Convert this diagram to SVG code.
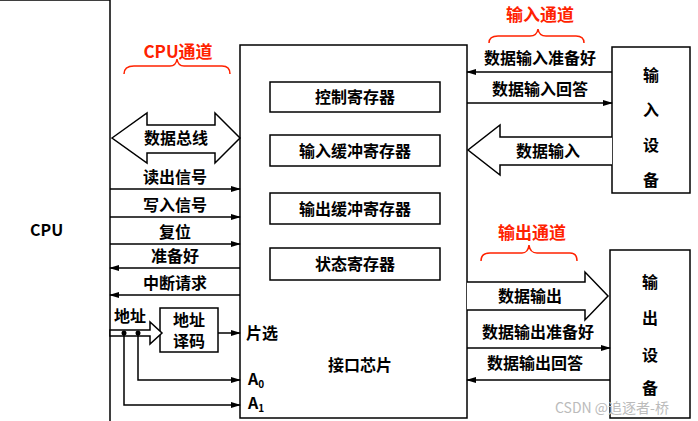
<svg xmlns="http://www.w3.org/2000/svg" width="698" height="421" viewBox="0 0 698 421">
<defs>
<marker id="ah" markerWidth="10" markerHeight="8" refX="9" refY="4" orient="auto" markerUnits="userSpaceOnUse"><path d="M0,1 L10,4 L0,7 Z" fill="#000"/></marker>
</defs>
<style>
.t{font-family:"Noto Sans CJK SC","Noto Sans",sans-serif;font-size:16px;font-weight:bold;fill:#000}
.r{font-family:"Noto Sans CJK SC","Noto Sans",sans-serif;font-size:17px;font-weight:bold;fill:#ff2200}
.b{fill:#fff;stroke:#000;stroke-width:1.5}
.l{fill:none;stroke:#000;stroke-width:1.5}
.br{fill:none;stroke:#ff2200;stroke-width:1.5}
</style>
<rect width="698" height="421" fill="#fff"/>
<g id="cpu"><path class="l" d="M0,0 L110,0 L110,421"/><text class="t" x="30" y="236" font-size="17" font-family="Liberation Serif,serif">CPU</text></g>
<g id="chip"><rect class="b" x="240" y="45" width="227" height="373"/><text class="t" x="328" y="371" font-size="18">接口芯片</text></g>
<g id="reg1"><rect class="b" x="270" y="82" width="170" height="30"/><text class="t" x="355" y="103" text-anchor="middle">控制寄存器</text></g>
<g id="reg2"><rect class="b" x="270" y="135" width="170" height="31"/><text class="t" x="355" y="157" text-anchor="middle">输入缓冲寄存器</text></g>
<g id="reg3"><rect class="b" x="270" y="193" width="170" height="31"/><text class="t" x="355" y="215" text-anchor="middle">输出缓冲寄存器</text></g>
<g id="reg4"><rect class="b" x="270" y="248" width="170" height="32"/><text class="t" x="355" y="270" text-anchor="middle">状态寄存器</text></g>
<g id="decoder"><rect class="b" x="160" y="308" width="58" height="44"/><text class="t" x="189" y="326" text-anchor="middle" font-size="15">地址</text><text class="t" x="189" y="347" text-anchor="middle" font-size="15">译码</text></g>
<g id="indev"><rect class="b" x="612" y="47" width="78" height="146"/><text class="t" x="651" y="81" text-anchor="middle">输</text><text class="t" x="651" y="116" text-anchor="middle">入</text><text class="t" x="651" y="151" text-anchor="middle">设</text><text class="t" x="651" y="186" text-anchor="middle">备</text></g>
<g id="outdev"><rect class="b" x="610" y="250" width="80" height="168"/><text class="t" x="650" y="288" text-anchor="middle">输</text><text class="t" x="650" y="324" text-anchor="middle">出</text><text class="t" x="650" y="361" text-anchor="middle">设</text><text class="t" x="650" y="394" text-anchor="middle">备</text></g>
<g id="connectors">
<path class="b" d="M112,138 L147,113 L147,125 L215,125 L215,113 L240,138 L215,163 L215,153 L147,153 L147,163 Z"/>
<text class="t" x="176" y="144" text-anchor="middle">数据总线</text>
<line class="l" x1="110" y1="189" x2="240" y2="189" marker-end="url(#ah)"/><text class="t" x="175" y="183" text-anchor="middle">读出信号</text>
<line class="l" x1="110" y1="217" x2="240" y2="217" marker-end="url(#ah)"/><text class="t" x="175" y="211" text-anchor="middle">写入信号</text>
<line class="l" x1="110" y1="244" x2="240" y2="244" marker-end="url(#ah)"/><text class="t" x="175" y="238" text-anchor="middle">复位</text>
<line class="l" x1="240" y1="268" x2="110" y2="268" marker-end="url(#ah)"/><text class="t" x="175" y="262" text-anchor="middle">准备好</text>
<line class="l" x1="240" y1="295" x2="110" y2="295" marker-end="url(#ah)"/><text class="t" x="175" y="289" text-anchor="middle">中断请求</text>
<text class="t" x="114" y="322">地址</text>
<path class="b" d="M110,330 L150,330 L150,322 L162,333 L150,344 L150,336 L110,336 Z"/>
<line class="l" x1="218" y1="333" x2="240" y2="333" marker-end="url(#ah)"/><text class="t" x="246" y="339">片选</text>
<circle cx="124" cy="333" r="2.5"/><circle cx="138" cy="333" r="2.5"/>
<path class="l" d="M138,333 L138,380 L240,380" marker-end="url(#ah)"/>
<path class="l" d="M124,333 L124,405 L240,405" marker-end="url(#ah)"/>
<text class="t" x="248" y="385" font-family="Liberation Serif,serif">A<tspan font-size="10" dy="3">0</tspan></text>
<text class="t" x="248" y="409" font-family="Liberation Serif,serif">A<tspan font-size="10" dy="3">1</tspan></text>
<line class="l" x1="612" y1="72" x2="467" y2="72" marker-end="url(#ah)"/><text class="t" x="540" y="64" text-anchor="middle">数据输入准备好</text>
<line class="l" x1="467" y1="103" x2="612" y2="103" marker-end="url(#ah)"/><text class="t" x="540" y="95" text-anchor="middle">数据输入回答</text>
<path class="b" d="M612,137 L500,137 L500,125 L468,150 L500,175 L500,165 L612,165"/>
<text class="t" x="548" y="157" text-anchor="middle">数据输入</text>
<path class="b" d="M467,282 L585,282 L585,272 L608,296 L585,320 L585,310 L467,310"/>
<text class="t" x="530" y="302" text-anchor="middle">数据输出</text>
<line class="l" x1="467" y1="348" x2="610" y2="348" marker-end="url(#ah)"/><text class="t" x="538" y="338" text-anchor="middle">数据输出准备好</text>
<line class="l" x1="610" y1="380" x2="467" y2="380" marker-end="url(#ah)"/><text class="t" x="535" y="369" text-anchor="middle">数据输出回答</text>
</g>
<text class="r" x="178" y="58" text-anchor="middle">CPU通道</text>
<path class="br" d="M124,74 Q124,66 134,66 L170,66 Q176,66 177,59 Q178,66 184,66 L222,66 Q230,66 230,74"/>
<text class="r" x="540" y="21" text-anchor="middle">输入通道</text>
<path class="br" d="M489,43 Q489,36 498,36 L530,36 Q537,36 538,29 Q539,36 546,36 L576,36 Q584,36 584,43"/>
<text class="r" x="532" y="239" text-anchor="middle">输出通道</text>
<path class="br" d="M481,261 Q481,253 490,253 L522,253 Q528,253 529,245 Q530,253 537,253 L570,253 Q577,253 577,261"/>
<text x="612" y="413" text-anchor="middle" font-family="Noto Sans CJK SC,sans-serif" font-size="14" fill="#bbb">CSDN @追逐者-桥</text>
</svg>
